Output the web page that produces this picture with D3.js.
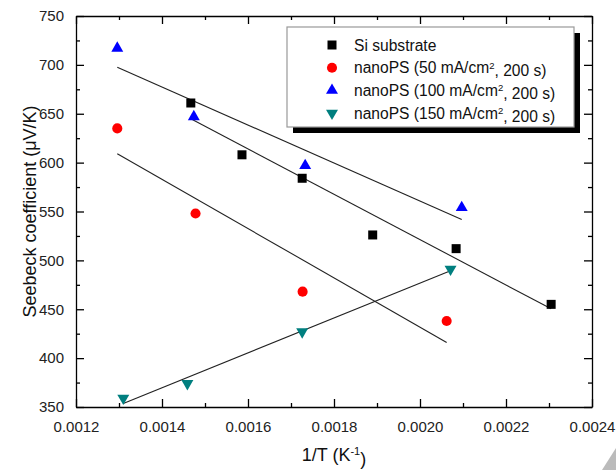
<!DOCTYPE html>
<html>
<head>
<meta charset="utf-8">
<style>
  body { margin: 0; background: #fff; }
  svg { font-family: "Liberation Sans", Arial, sans-serif; }
  .axis path, .axis line { stroke: #000; stroke-width: 1.3px; }
  .axis text { font-size: 15px; fill: #222; }
</style>
</head>
<body>
<svg width="616" height="470"></svg>
<script src="https://d3js.org/d3.v7.min.js"></script>
<script>
// values
var seriesNames = ["Si substrate", "nanoPS (50 mA/cm", "nanoPS (100 mA/cm", "nanoPS (150 mA/cm"];
var seriesColors = ["#000000", "#ff0000", "#0000ff", "#007f7f"];
var seriesSymbols = ["square", "circle", "triangle", "triangleDown"];

var xSi = [0.001467, 0.001586, 0.001726, 0.00189, 0.002084, 0.002305];
var ySi = [661, 608, 584, 526, 512, 455];
var x50 = [0.001296, 0.001478, 0.001727, 0.002062];
var y50 = [635, 548, 468, 438];
var x100 = [0.001296, 0.001474, 0.001733, 0.002097];
var y100 = [717, 647, 597, 554];
var x150 = [0.00131, 0.001459, 0.001726, 0.002071];
var y150 = [359, 374, 427, 491];

var xTicks = [0.0012, 0.0014, 0.0016, 0.0018, 0.0020, 0.0022, 0.0024];
var yTicks = [350, 400, 450, 500, 550, 600, 650, 700, 750];

var seriesX = [xSi, x50, x100, x150];
var seriesY = [ySi, y50, y100, y150];

var svg = d3.select("svg");
var margin = { top: 16, left: 76, right: 24, bottom: 63 };
var width = 616, height = 470;
var innerW = width - margin.left - margin.right,
    innerH = height - margin.top - margin.bottom;

var x = d3.scaleLinear().domain([0.0012, 0.0024]).range([margin.left, margin.left + innerW]);
var y = d3.scaleLinear().domain([350, 750]).range([margin.top + innerH, margin.top]);

var xMinor = d3.range(0.0013, 0.0024, 0.0002);
var yMinor = d3.range(375, 750, 50);

// axes, ticks pointing inward
svg.append("g").attr("class", "axis")
    .attr("transform", "translate(0," + y(350) + ")")
    .call(d3.axisBottom(x).tickValues(xTicks).tickSizeInner(-8).tickSizeOuter(0).tickPadding(14)
        .tickFormat(d3.format(".4f")));
svg.append("g").attr("class", "axis")
    .attr("transform", "translate(0," + y(350) + ")")
    .call(d3.axisBottom(x).tickValues(xMinor).tickSize(-4).tickFormat(""))
    .select(".domain").remove();
svg.append("g").attr("class", "axis")
    .attr("transform", "translate(0," + y(750) + ")")
    .call(d3.axisTop(x).tickValues(xTicks).tickSizeInner(-8).tickSizeOuter(0).tickFormat(""));
svg.append("g").attr("class", "axis")
    .attr("transform", "translate(0," + y(750) + ")")
    .call(d3.axisTop(x).tickValues(xMinor).tickSize(-4).tickFormat(""))
    .select(".domain").remove();

svg.append("g").attr("class", "axis")
    .attr("transform", "translate(" + x(0.0012) + ",0)")
    .call(d3.axisLeft(y).tickValues(yTicks).tickSizeInner(-8).tickSizeOuter(0).tickPadding(12));
svg.append("g").attr("class", "axis")
    .attr("transform", "translate(" + x(0.0012) + ",0)")
    .call(d3.axisLeft(y).tickValues(yMinor).tickSize(-4).tickFormat(""))
    .select(".domain").remove();
svg.append("g").attr("class", "axis")
    .attr("transform", "translate(" + x(0.0024) + ",0)")
    .call(d3.axisRight(y).tickValues(yTicks).tickSizeInner(-8).tickSizeOuter(0).tickFormat(""));
svg.append("g").attr("class", "axis")
    .attr("transform", "translate(" + x(0.0024) + ",0)")
    .call(d3.axisRight(y).tickValues(yMinor).tickSize(-4).tickFormat(""))
    .select(".domain").remove();

// least squares fit lines
function fit(xs, ys) {
    var mx = d3.mean(xs), my = d3.mean(ys);
    var sxy = d3.sum(xs, function (v, i) { return (v - mx) * (ys[i] - my); });
    var sxx = d3.sum(xs, function (v) { return (v - mx) * (v - mx); });
    var b = sxy / sxx;
    var x0 = d3.min(xs), x1 = d3.max(xs);
    return [[x0, my + b * (x0 - mx)], [x1, my + b * (x1 - mx)]];
}

var line = d3.line().x(function (d) { return x(d[0]); }).y(function (d) { return y(d[1]); });
seriesX.forEach(function (xs, i) {
    svg.append("path")
        .attr("d", line(fit(xs, seriesY[i])))
        .attr("fill", "none")
        .attr("stroke", "#222")
        .attr("stroke-width", 1.1);
});

var symbolPath = {
    square: d3.symbol().type(d3.symbolSquare).size(81),
    circle: d3.symbol().type(d3.symbolCircle).size(80),
    triangle: d3.symbol().type(d3.symbolTriangle).size(62),
    triangleDown: d3.symbol().type(d3.symbolTriangle).size(62)
};

function drawSymbol(g, kind, color) {
    var p = g.append("path").attr("d", symbolPath[kind]()).attr("fill", color);
    if (kind === "triangleDown") p.attr("transform", "rotate(180)");
    return p;
}

seriesX.forEach(function (xs, i) {
    xs.forEach(function (v, j) {
        var g = svg.append("g")
            .attr("transform", "translate(" + x(v) + "," + y(seriesY[i][j]) + ")");
        drawSymbol(g, seriesSymbols[i], seriesColors[i]);
    });
});

// legend with drop shadow
var lg = svg.append("g").attr("transform", "translate(287,27)");
lg.append("rect").attr("x", 6).attr("y", 6).attr("width", 287).attr("height", 100).attr("fill", "#000");
lg.append("rect").attr("x", 0).attr("y", 0).attr("width", 287).attr("height", 100)
    .attr("fill", "#fff").attr("stroke", "#999").attr("stroke-width", 1.2);

seriesNames.forEach(function (name, i) {
    var row = lg.append("g").attr("transform", "translate(45," + (18 + i * 22.7) + ")");
    drawSymbol(row, seriesSymbols[i], seriesColors[i]);
    var t = row.append("text").attr("x", 22).attr("dy", "0.36em")
        .attr("font-size", "15.6px").attr("fill", "#111").text(name);
    if (i > 0) {
        t.append("tspan").attr("dy", "-0.5em").attr("font-size", "9.5px").text("2");
        t.append("tspan").attr("dy", "0.5em").text(", 200 s)");
    }
});

// axis titles
var xt = svg.append("text")
    .attr("x", (x(0.0012) + x(0.0024)) / 2).attr("y", 461)
    .attr("text-anchor", "middle").attr("font-size", "18px").attr("fill", "#111")
    .text("1/T (K");
xt.append("tspan").attr("dy", "-0.55em").attr("font-size", "11px").text("-1");
xt.append("tspan").attr("dy", "0.55em").text(")");

svg.append("text")
    .attr("transform", "translate(36," + ((y(350) + y(750)) / 2) + ") rotate(-90)")
    .attr("text-anchor", "middle").attr("font-size", "18px").attr("fill", "#111")
    .text("Seebeck coefficient (\u03bcV/K)");

// grey slide arrow at the corner
svg.append("path").attr("d", "M602,470 L616,448 L616,470 Z").attr("fill", "#bbb");
</script>
</body>
</html>
